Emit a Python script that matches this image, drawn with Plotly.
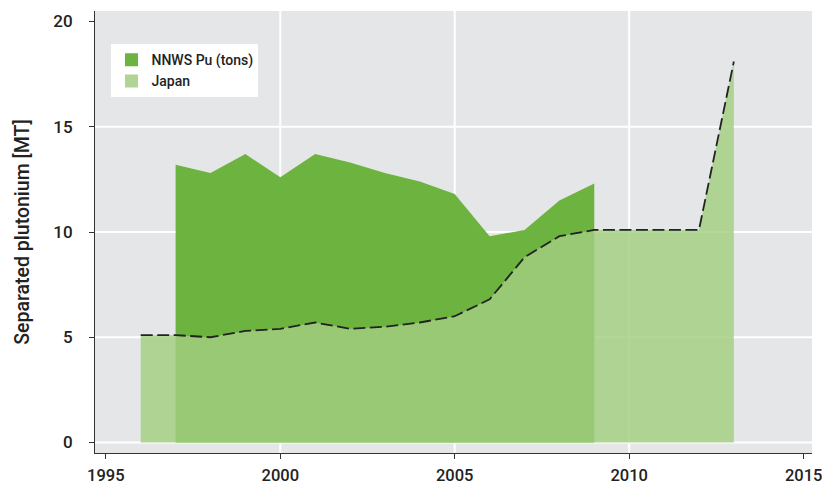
import plotly.graph_objects as go

nnws_years = [1997, 1998, 1999, 2000, 2001, 2002, 2003, 2004, 2005, 2006, 2007, 2008, 2009]
nnws_values = [13.2, 12.8, 13.7, 12.6, 13.7, 13.3, 12.8, 12.4, 11.8, 9.8, 10.1, 11.5, 12.3]

japan_years = [1996, 1997, 1998, 1999, 2000, 2001, 2002, 2003, 2004, 2005, 2006, 2007, 2008, 2009, 2010, 2011, 2012, 2013]
japan_values = [5.1, 5.1, 5.0, 5.3, 5.4, 5.7, 5.4, 5.5, 5.7, 6.0, 6.8, 8.8, 9.8, 10.1, 10.1, 10.1, 10.1, 18.1]

x_ticks = [1995, 2000, 2005, 2010, 2015]
y_ticks = [0, 5, 10, 15, 20]

FONT = "Roboto, sans-serif"
DARK = "#6db33f"
LIGHT = "#b1d495"

fig = go.Figure()
fig.add_trace(go.Scatter(x=nnws_years, y=nnws_values, mode="none", fill="tozeroy",
                         fillcolor=DARK, showlegend=False, hoverinfo="skip"))
fig.add_trace(go.Scatter(x=japan_years, y=japan_values, mode="lines", fill="tozeroy",
                         fillcolor="rgba(162,206,128,0.82)",
                         line=dict(color="#222222", width=1.8, dash="12px,4.5px"),
                         showlegend=False, hoverinfo="skip"))
fig.add_trace(go.Scatter(x=[None], y=[None], mode="markers", name="NNWS Pu (tons)",
                         marker=dict(symbol="square", size=13, color=DARK)))
fig.add_trace(go.Scatter(x=[None], y=[None], mode="markers", name="Japan",
                         marker=dict(symbol="square", size=13, color=LIGHT)))

shapes = []
for xv in x_ticks[1:-1]:
    shapes.append(dict(type="line", xref="x", yref="paper", x0=xv, x1=xv, y0=0, y1=1,
                       line=dict(color="white", width=2), layer="below"))
for yv in y_ticks[:-1]:
    shapes.append(dict(type="line", xref="paper", yref="y", x0=0, x1=1, y0=yv, y1=yv,
                       line=dict(color="white", width=2), layer="below"))

fig.update_layout(
    width=822, height=484,
    margin=dict(l=95, r=10, t=11, b=31),
    paper_bgcolor="white", plot_bgcolor="#e5e6e8",
    font=dict(family=FONT, size=17, color="#222222", weight=500),
    shapes=shapes,
    legend=dict(x=0.023, y=0.925, xanchor="left", yanchor="top",
                bgcolor="white", font=dict(size=14, color="#222222", weight=500),
                borderwidth=0, itemwidth=30, tracegroupgap=0),
    showlegend=True,
)
fig.update_xaxes(range=[1994.69, 2015.24], tickvals=x_ticks, showgrid=False, zeroline=False,
                 showline=True, linecolor="#333333", linewidth=1, automargin=False,
                 ticks="outside", ticklen=5, tickcolor="#333333", ticklabelstandoff=2,
                 ticklabeloverflow="allow", tickfont=dict(size=16.5))
fig.update_yaxes(range=[-0.5, 20.5], tickvals=y_ticks, showgrid=False, zeroline=False,
                 showline=True, linecolor="#333333", linewidth=1, automargin=False,
                 ticks="outside", ticklen=5, tickcolor="#333333", ticklabelstandoff=13,
                 title=dict(text="Separated plutonium [MT]", font=dict(size=19.5), standoff=18))

fig.write_html("out.html", config={"displayModeBar": False},
               post_script="document.body.style.margin='0';")
